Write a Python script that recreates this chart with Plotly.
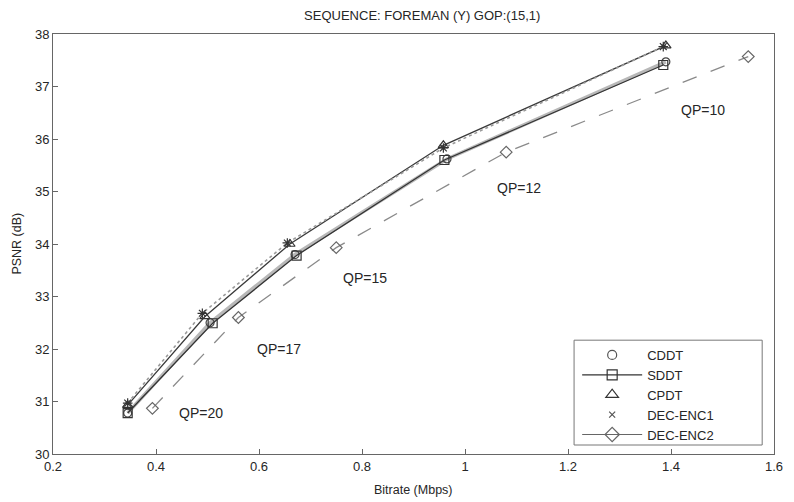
import plotly.graph_objects as go

# ---- data ----
cddt_x = [0.345, 0.505, 0.67, 0.965, 1.39]
cddt_y = [30.78, 32.50, 33.80, 35.62, 37.47]
sddt_x = [0.345, 0.51, 0.673, 0.96, 1.385]
sddt_y = [30.78, 32.49, 33.78, 35.60, 37.41]
cpdt_x = [0.345, 0.495, 0.66, 0.958, 1.39]
cpdt_y = [30.93, 32.62, 34.00, 35.88, 37.78]
enc1_x = [0.345, 0.49, 0.655, 0.958, 1.385]
enc1_y = [30.97, 32.68, 34.02, 35.83, 37.76]
enc2_x = [0.393, 0.56, 0.75, 1.08, 1.55]
enc2_y = [30.87, 32.60, 33.93, 35.75, 37.57]

qp_labels = ["QP=20", "QP=17", "QP=15", "QP=12", "QP=10"]
qp_x = [0.488, 0.638, 0.806, 1.104, 1.462]
qp_y = [30.78, 32.00, 33.35, 35.07, 36.55]

x_ticks = [0.2, 0.4, 0.6, 0.8, 1.0, 1.2, 1.4, 1.6]
x_tick_text = ["0.2", "0.4", "0.6", "0.8", "1", "1.2", "1.4", "1.6"]
y_ticks = [30, 31, 32, 33, 34, 35, 36, 37, 38]

FONT = "Liberation Sans, Arial, sans-serif"
TXT = "#262626"

fig = go.Figure()

# plotted series (legend handled separately to mimic the reference legend)
fig.add_trace(go.Scatter(x=cddt_x, y=cddt_y, mode="lines+markers", showlegend=False,
                         line=dict(color="#b8b8b8", width=3.5),
                         marker=dict(symbol="circle-open", size=8, color="#444", line=dict(width=1.2))))
fig.add_trace(go.Scatter(x=sddt_x, y=sddt_y, mode="lines+markers", showlegend=False,
                         line=dict(color="#333", width=1.3),
                         marker=dict(symbol="square-open", size=9, color="#333", line=dict(width=1.2))))
fig.add_trace(go.Scatter(x=cpdt_x, y=cpdt_y, mode="lines+markers", showlegend=False,
                         line=dict(color="#3a3a3a", width=1.3),
                         marker=dict(symbol="triangle-up-open", size=9, color="#333", line=dict(width=1.2))))
fig.add_trace(go.Scatter(x=enc1_x, y=enc1_y, mode="lines+markers", showlegend=False,
                         line=dict(color="#9a9a9a", width=1.6, dash="dot"),
                         marker=dict(symbol="asterisk-open", size=8, color="#333", line=dict(width=1.2))))
fig.add_trace(go.Scatter(x=enc2_x, y=enc2_y, mode="lines+markers", showlegend=False,
                         line=dict(color="#8a8a8a", width=1.3, dash="longdash"),
                         marker=dict(symbol="diamond-open", size=9, color="#666", line=dict(width=1.2))))

# legend entries
fig.add_trace(go.Scatter(x=[None], y=[None], mode="markers", name="CDDT",
                         marker=dict(symbol="circle-open", size=9, color="#555", line=dict(width=1.2))))
fig.add_trace(go.Scatter(x=[None], y=[None], mode="lines+markers", name="SDDT",
                         line=dict(color="#333", width=1.2),
                         marker=dict(symbol="square-open", size=10, color="#333", line=dict(width=1.2))))
fig.add_trace(go.Scatter(x=[None], y=[None], mode="markers", name="CPDT",
                         marker=dict(symbol="triangle-up-open", size=11, color="#333", line=dict(width=1.2))))
fig.add_trace(go.Scatter(x=[None], y=[None], mode="markers", name="DEC-ENC1",
                         marker=dict(symbol="x-thin-open", size=6, color="#555", line=dict(width=1.2))))
fig.add_trace(go.Scatter(x=[None], y=[None], mode="lines+markers", name="DEC-ENC2",
                         line=dict(color="#666", width=1.2),
                         marker=dict(symbol="diamond-open", size=11, color="#666", line=dict(width=1.2))))

for t, xx, yy in zip(qp_labels, qp_x, qp_y):
    fig.add_annotation(x=xx, y=yy, text=t, showarrow=False,
                       font=dict(family=FONT, size=14, color=TXT))

# axis titles as annotations
fig.add_annotation(xref="paper", yref="paper", x=0.5, y=-0.086, text="Bitrate (Mbps)",
                   showarrow=False, xanchor="center", yanchor="middle",
                   font=dict(family=FONT, size=12.5, color=TXT))
fig.add_annotation(xref="paper", yref="paper", x=-0.0505, y=0.5, text="PSNR (dB)",
                   showarrow=False, textangle=-90, xanchor="center", yanchor="middle",
                   font=dict(family=FONT, size=12.5, color=TXT))

# legend box
fig.add_shape(type="rect", xref="paper", yref="paper", x0=0.7227, x1=0.9836, y0=0.0214, y1=0.271,
              line=dict(color="#777", width=1), fillcolor="white", layer="above")

fig.update_layout(
    width=786, height=494,
    margin=dict(l=45, r=11, t=26, b=48),
    paper_bgcolor="white", plot_bgcolor="white",
    font=dict(family=FONT, size=13, color=TXT),
    title=dict(text="SEQUENCE: FOREMAN (Y) GOP:(15,1)", x=0.527, xanchor="center",
               y=0.984, yanchor="middle", font=dict(family=FONT, size=13, color=TXT)),
    legend=dict(x=0.727, y=0.2715, xanchor="left", yanchor="top",
                bgcolor="rgba(0,0,0,0)", borderwidth=0,
                font=dict(family=FONT, size=13, color=TXT),
                itemwidth=60, tracegroupgap=0),
)
fig.update_xaxes(range=[0.2, 1.6], tickvals=x_ticks, ticktext=x_tick_text,
                 showline=True, linecolor="#666", linewidth=1, mirror=True,
                 ticks="inside", ticklen=5, tickcolor="#666",
                 showgrid=False, zeroline=False,
                 tickfont=dict(family=FONT, size=13, color=TXT))
fig.update_yaxes(range=[30, 38], tickvals=y_ticks,
                 showline=True, linecolor="#666", linewidth=1, mirror=True,
                 ticks="inside", ticklen=5, tickcolor="#666",
                 showgrid=False, zeroline=False,
                 tickfont=dict(family=FONT, size=13, color=TXT))

fig.write_html("out.html")
